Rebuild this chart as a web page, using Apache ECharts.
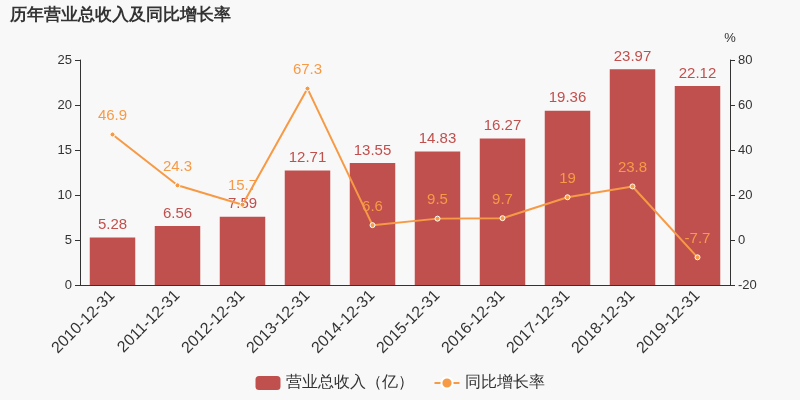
<!DOCTYPE html>
<html><head><meta charset="utf-8">
<script src="https://cdn.jsdelivr.net/npm/echarts@6/dist/echarts.min.js"></script>
<style>html,body{margin:0;background:#f8f8f8}#c{width:800px;height:400px}</style>
</head><body><div id="c"></div>
<script>
const categories=['2010-12-31','2011-12-31','2012-12-31','2013-12-31','2014-12-31','2015-12-31','2016-12-31','2017-12-31','2018-12-31','2019-12-31'];
const revenue=[5.28,6.56,7.59,12.71,13.55,14.83,16.27,19.36,23.97,22.12];
const growth=[46.9,24.3,15.7,67.3,6.6,9.5,9.7,19,23.8,-7.7];
const chart=echarts.init(document.getElementById('c'));
chart.setOption({
 backgroundColor:'#f8f8f8',
 title:{text:'历年营业总收入及同比增长率',left:5,top:2,textStyle:{fontSize:17,fontWeight:'bold',color:'#333'}},
 legend:{bottom:4,itemGap:20,textStyle:{fontSize:16,color:'#333'},data:['营业总收入（亿）','同比增长率']},
 grid:{left:80,right:70,top:60,bottom:115},
 xAxis:{type:'category',data:categories,axisLabel:{rotate:45,fontSize:16,color:'#333',interval:0},axisTick:{show:false},axisLine:{lineStyle:{color:'#333'}}},
 yAxis:[
  {type:'value',min:0,max:25,interval:5,axisLine:{show:true,lineStyle:{color:'#333'}},axisTick:{show:true},splitLine:{show:false},axisLabel:{color:'#333',fontSize:13}},
  {type:'value',min:-20,max:80,interval:20,name:'%',nameTextStyle:{color:'#333',fontSize:13},axisLine:{show:true,lineStyle:{color:'#333'}},axisTick:{show:true},splitLine:{show:false},axisLabel:{color:'#333',fontSize:13}}
 ],
 series:[
  {name:'营业总收入（亿）',type:'bar',data:revenue,barWidth:'70%',itemStyle:{color:'#c0504d'},label:{show:true,position:'top',color:'#c0504d',fontSize:15}},
  {name:'同比增长率',type:'line',yAxisIndex:1,data:growth,symbol:'circle',symbolSize:5,itemStyle:{color:'#f79a46',borderColor:'#fff',borderWidth:1},lineStyle:{color:'#f79a46',width:2},label:{show:true,position:'top',color:'#f79a46',fontSize:15,distance:8}}
 ]
});
</script></body></html>
